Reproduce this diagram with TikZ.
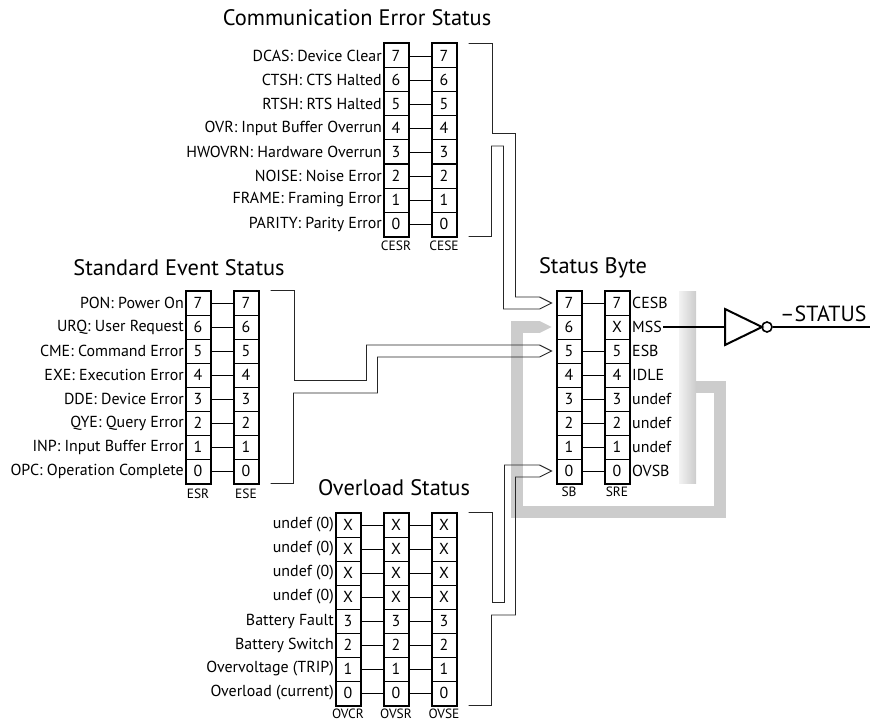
\documentclass[tikz,border=0pt]{standalone}
\usepackage{fontspec}
\setmainfont{PT Sans}
\usetikzlibrary{calc,positioning}

\tikzset{
  cell/.style={draw, line width=1bp, minimum width=24bp, minimum height=24bp,
    inner sep=0pt, font=\fontsize{16}{18}\selectfont},
  regframe/.style={line width=2bp},
  link/.style={line width=0.9bp},
  bus/.style={line width=0.9bp, draw=black!85},
  lbl/.style={inner sep=1.5bp, font=\fontsize{16}{18}\selectfont},
  regname/.style={inner sep=1bp, font=\fontsize{13.5}{15}\selectfont},
  headline/.style={font=\fontsize{22.5}{26}\selectfont},
  feedback/.style={line width=12bp, draw=gray!40},
  wire/.style={line width=2bp},
}

\begin{document}
\begin{tikzpicture}[x=1bp, y=-1bp]
  \useasboundingbox (0,0) rectangle (875,723);

  % communication error status
  \node[headline] (cestitle) at (357,18) {Communication Error Status};
  \foreach \b/\t [count=\i from 0] in {7/DCAS: Device Clear, 6/CTSH: CTS Halted,
      5/RTSH: RTS Halted, 4/OVR: Input Buffer Overrun, 3/HWOVRN: Hardware Overrun,
      2/NOISE: Noise Error, 1/FRAME: Framing Error, 0/PARITY: Parity Error} {
    \node[cell] (cesr\b) at (396,56+24*\i) {\b};
    \node[cell] (cese\b) at (444,56+24*\i) {\b};
    \node[lbl, left=0bp of cesr\b] (lces\b) {\t};
    \draw[link] (cesr\b) -- (cese\b);
  }
  \draw[regframe] (cesr7.north west) rectangle (cesr0.south east);
  \draw[regframe] (cese7.north west) rectangle (cese0.south east);
  \node[regname, below=3bp of cesr0] (cesrname) {CESR};
  \node[regname, below=3bp of cese0] (cesename) {CESE};

  % standard event status
  \node[headline] (esrtitle) at (179,268) {Standard Event Status};
  \foreach \b/\t [count=\i from 0] in {7/PON: Power On, 6/URQ: User Request,
      5/CME: Command Error, 4/EXE: Execution Error, 3/DDE: Device Error,
      2/QYE: Query Error, 1/INP: Input Buffer Error, 0/OPC: Operation Complete} {
    \node[cell] (esr\b) at (198,303+24*\i) {\b};
    \node[cell] (ese\b) at (246,303+24*\i) {\b};
    \node[lbl, left=0bp of esr\b] (lesr\b) {\t};
    \draw[link] (esr\b) -- (ese\b);
  }
  \draw[regframe] (esr7.north west) rectangle (esr0.south east);
  \draw[regframe] (ese7.north west) rectangle (ese0.south east);
  \node[regname, below=4bp of esr0] (esrname) {ESR};
  \node[regname, below=4bp of ese0] (esename) {ESE};

  % overload status
  \node[headline] (ovtitle) at (394,488) {Overload Status};
  \foreach \b/\v/\t [count=\i from 0] in {7/X/undef (0), 6/X/undef (0),
      5/X/undef (0), 4/X/undef (0), 3/3/Battery Fault, 2/2/Battery Switch,
      1/1/Overvoltage (TRIP), 0/0/Overload (current)} {
    \node[cell] (ovcr\b) at (348,525+24*\i) {\v};
    \node[cell] (ovsr\b) at (396,525+24*\i) {\v};
    \node[cell] (ovse\b) at (444,525+24*\i) {\v};
    \node[lbl, left=0bp of ovcr\b] (lov\b) {\t};
    \draw[link] (ovcr\b) -- (ovsr\b);
    \draw[link] (ovsr\b) -- (ovse\b);
  }
  \draw[regframe] (ovcr7.north west) rectangle (ovcr0.south east);
  \draw[regframe] (ovsr7.north west) rectangle (ovsr0.south east);
  \draw[regframe] (ovse7.north west) rectangle (ovse0.south east);
  \node[regname, below=2bp of ovcr0] (ovcrname) {OVCR};
  \node[regname, below=2bp of ovsr0] (ovsrname) {OVSR};
  \node[regname, below=2bp of ovse0] (ovsename) {OVSE};

  % status byte
  \node[headline] (sbtitle) at (593,268) {Status Byte};
  \foreach \b/\v/\t [count=\i from 0] in {7/7/CESB, 6/X/MSS, 5/5/ESB, 4/4/IDLE,
      3/3/undef, 2/2/undef, 1/1/undef, 0/0/OVSB} {
    \node[cell] (sb\b) at (569,303+24*\i) {\b};
    \node[cell] (sre\b) at (617,303+24*\i) {\v};
    \node[lbl, right=1bp of sre\b] (rsb\b) {\t};
  }
  \foreach \b in {7,5,4,3,2,1,0}
    \draw[link] (sb\b) -- (sre\b);
  \draw[regframe] (sb7.north west) rectangle (sb0.south east);
  \draw[regframe] (sre7.north west) rectangle (sre0.south east);
  \node[regname, below=2bp of sb0] (sbname) {SB};
  \node[regname, below=2bp of sre0] (srename) {SRE};

  % grey summary loop back into bit 6
  \node[minimum width=17bp, minimum height=192bp, inner sep=0pt,
    left color=gray!10, right color=gray!40] (srebar) at (687.5,387) {};
  \draw[feedback] (srebar.east) -- ++(24,0) -- ++(0,125)
    -| ($(sb6.west)+(-40,0)$) -- ($(sb6.west)+(-17,0)$);
  \fill[gray!40] ($(sb6.west)+(-17,-6)$) -- ($(sb6.west)+(-5,0)$)
    -- ($(sb6.west)+(-17,6)$) -- cycle;

  % buses into the status byte
  \draw[bus] ($(cese7.north east)+(12,0)$) -- ++(24,0) -- ++(0,90) -- ++(23,0)
    |- ($(sb7.west)+(-17,-6)$) -- ++(12,6) -- ++(-12,6) -- ++(-36,0)
    -- ++(0,-163) -- ++(-12,0) |- ($(cese0.south east)+(12,0)$);
  \draw[bus] ($(ese7.north east)+(12,0)$) -- ++(24,0) -- ++(0,90) -- ++(72,0)
    |- ($(sb5.west)+(-17,-6)$) -- ++(12,6) -- ++(-12,6) -- ++(-162,0)
    -- ++(0,36) -- ++(-84,0) |- ($(ese0.south east)+(12,0)$);
  \draw[bus] ($(ovse7.north east)+(12,0)$) -- ++(24,0) -- ++(0,90) -- ++(12,0)
    |- ($(sb0.west)+(-17,-6)$) -- ++(12,6) -- ++(-12,6) -- ++(-24,0)
    -- ++(0,138) -- ++(-24,0) |- ($(ovse0.south east)+(12,0)$);

  % inverter
  \coordinate (gatein) at (725,327);
  \draw[wire, line join=miter] (725,309) -- (762,327) -- (725,345) -- cycle;
  \node[draw, circle, line width=1.6bp, minimum size=10bp, inner sep=0pt]
    (bubble) at (767,327) {};
  \draw[wire] (rsb6) -- (gatein);
  \draw[wire] (bubble) -- ++(103,0) coordinate (statusout);
  \node[anchor=south west, inner sep=0pt, font=\fontsize{22}{24}\selectfont]
    (statuslbl) at (780,322) {\textendash STATUS};
\end{tikzpicture}
\end{document}
